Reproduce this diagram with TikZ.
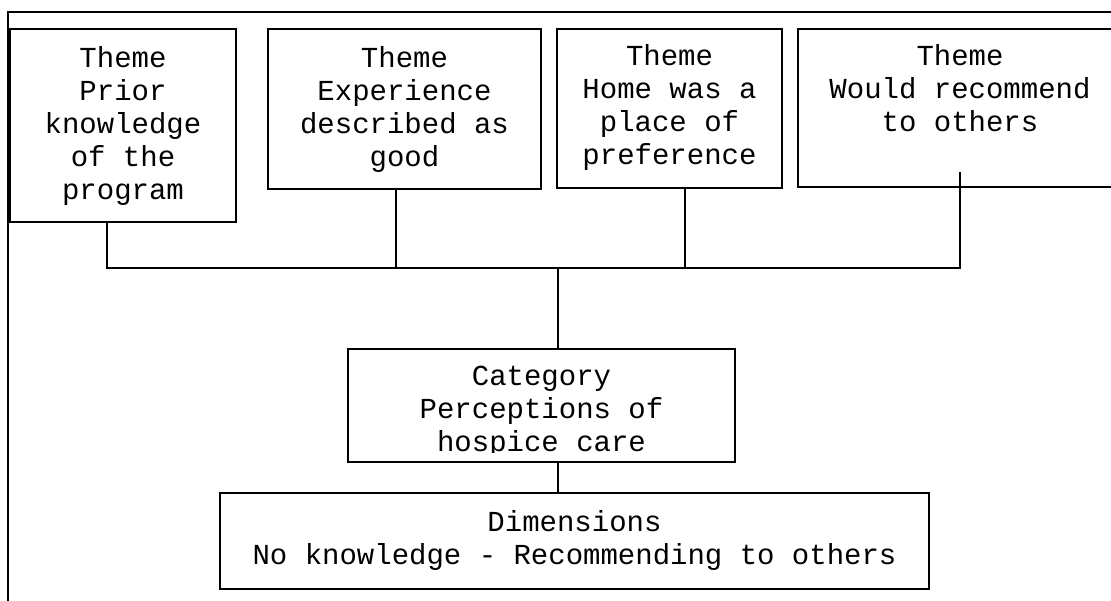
\documentclass[tikz,border=0pt]{standalone}
\usepackage{fontspec}
\setmonofont{Liberation Mono}
\begin{document}
\begin{tikzpicture}[x=1pt,y=-1pt,
  box/.style={draw, line width=1.6pt, rectangle, anchor=north west, inner sep=0pt, outer sep=0pt},
  txt/.style={align=center, anchor=north, inner sep=0pt, font=\ttfamily\fontsize{29}{33}\selectfont},
  conn/.style={line width=1.6pt}]
\clip (0,0) rectangle (1111,600);
\fill[white] (0,0) rectangle (1111,600);
% outer frame
\coordinate (fa) at (8,620);
\coordinate (fb) at (8,12);
\coordinate (fc) at (1130,12);
\draw[conn] (fa) -- (fb) -- (fc);
% theme boxes
\node[box, minimum width=226pt, minimum height=193pt] (b1) at (10,29) {};
\node[box, minimum width=273pt, minimum height=160pt] (b2) at (268,29) {};
\node[box, minimum width=225pt, minimum height=159pt] (b3) at (557,29) {};
\node[box, minimum width=324pt, minimum height=158pt] (b4) at (798,29) {};
\node[txt] (t1) at (123,46) {Theme\\Prior\\knowledge\\of the\\program};
\node[txt] (t2) at (404.5,46) {Theme\\Experience\\described as\\good};
\node[txt] (t3) at (669.5,44) {Theme\\Home was a\\place of\\preference};
\node[txt] (t4) at (960,44) {Theme\\Would recommend\\to others};
% category
\node[box, minimum width=387pt, minimum height=113pt] (cat) at (348,349) {};
\begin{scope}
\clip (348,349) rectangle (735,452);
\node[txt] (tc) at (541.5,366) {Category\\Perceptions of\\hospice care};
\end{scope}
% dimensions
\node[box, minimum width=709pt, minimum height=96pt] (dim) at (220,493) {};
\node[txt] (td) at (574.5,510) {Dimensions\\No knowledge - Recommending to others};
% connectors
\coordinate (h1) at (107,268);
\coordinate (h2) at (396,268);
\coordinate (h3) at (685,268);
\coordinate (h4) at (960,268);
\coordinate (hm) at (558,268);
\coordinate (k4) at (960,172);
\draw[conn] (b1.south -| h1) -- (h1) -- (h4) -- (k4);
\draw[conn] (b2.south -| h2) -- (h2);
\draw[conn] (b3.south -| h3) -- (h3);
\draw[conn] (hm) -- (cat.north -| hm);
\draw[conn] (cat.south -| hm) -- (dim.north -| hm);
\end{tikzpicture}
\end{document}
